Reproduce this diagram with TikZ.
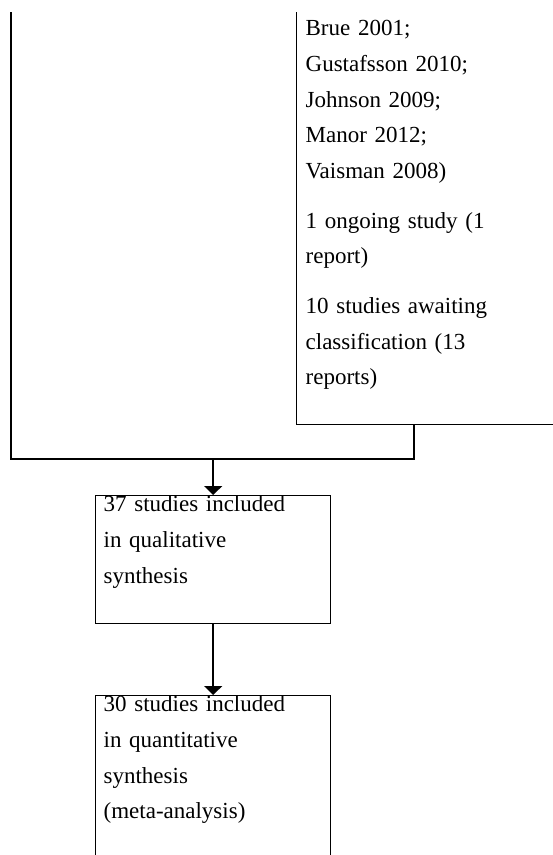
\documentclass[tikz,border=0pt]{standalone}
\usepackage{fontspec}
\setmainfont{Liberation Serif}
\usetikzlibrary{arrows.meta,positioning}

\tikzset{
  flowbox/.style={draw, line width=1.3pt, anchor=north west, align=left,
    inner xsep=8pt, inner ysep=0pt, text width=219pt,
    font=\fontsize{23}{35.7}\selectfont},
  flowline/.style={line width=1.4pt},
  flowarrow/.style={line width=1.4pt, -{Triangle[width=18pt,length=9pt]}}
}

\begin{document}
\begin{tikzpicture}[x=1pt, y=-1pt]
  \useasboundingbox (0,0) rectangle (553,855);
  \clip (0,12) rectangle (553,855);

  % excluded studies box, runs off the top and right edge
  \node[flowbox, inner xsep=9pt, text width=260pt, text height=35pt, text depth=389pt]
    (excluded) at (296,0) {Brue 2001;\\
    Gustafsson 2010;\\
    Johnson 2009;\\
    Manor 2012;\\
    Vaisman 2008)\\[14pt]
    1 ongoing study (1\\
    report)\\[14pt]
    10 studies awaiting\\
    classification (13\\
    reports)};

  \node[flowbox, text depth=112pt] (qual) at (95,495)
    {37 studies included\\in qualitative\\synthesis};
  \node[flowbox, text depth=250pt] (quant) at (95,695)
    {30 studies included\\in quantitative\\synthesis\\(meta-analysis)};

  % connectors
  \coordinate (src) at (11,0);
  \coordinate (exclout) at ([xshift=118pt]excluded.south west);
  \coordinate (merge) at (qual.north |- 0,459);
  \draw[flowline] (src) |- (exclout |- merge) -- (exclout);
  \draw[flowarrow] (merge) -- (qual.north);
  \draw[flowarrow] (qual) -- (quant);
\end{tikzpicture}
\end{document}
